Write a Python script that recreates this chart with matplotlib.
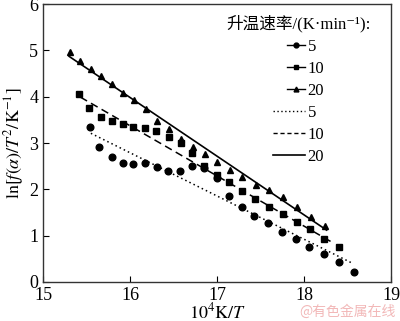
import matplotlib
matplotlib.use("Agg")
import matplotlib.pyplot as plt
from matplotlib.lines import Line2D
from matplotlib.legend_handler import HandlerLine2D

plt.rcParams['font.family'] = ['Liberation Serif', 'Noto Sans CJK SC', 'DejaVu Sans']
plt.rcParams['mathtext.fontset'] = 'stix'

# measured points, heating rate 5 / 10 / 20 K/min
x5 = [15.54, 15.64, 15.79, 15.92, 16.03, 16.17, 16.31, 16.44, 16.57, 16.71, 16.85,
      17.00, 17.14, 17.29, 17.43, 17.59, 17.75, 17.91, 18.06, 18.23, 18.40, 18.57]
y5 = [3.34, 2.91, 2.69, 2.56, 2.54, 2.56, 2.48, 2.40, 2.39, 2.51, 2.46,
      2.24, 1.86, 1.62, 1.42, 1.27, 1.08, 0.93, 0.75, 0.60, 0.43, 0.22]

x10 = [15.41, 15.53, 15.67, 15.79, 15.92, 16.03, 16.17, 16.30, 16.45, 16.59, 16.71,
       16.85, 17.00, 17.14, 17.29, 17.44, 17.60, 17.76, 17.92, 18.07, 18.23, 18.40]
y10 = [4.05, 3.75, 3.56, 3.47, 3.41, 3.34, 3.32, 3.25, 3.13, 3.01, 2.78,
       2.50, 2.32, 2.16, 1.97, 1.80, 1.62, 1.46, 1.29, 1.14, 0.93, 0.75]

x20 = [15.31, 15.43, 15.55, 15.67, 15.79, 15.92, 16.05, 16.18, 16.31, 16.45, 16.59,
       16.72, 16.86, 17.00, 17.15, 17.29, 17.45, 17.60, 17.76, 17.92, 18.08, 18.24]
y20 = [4.96, 4.76, 4.59, 4.44, 4.27, 4.09, 3.92, 3.73, 3.47, 3.30, 3.08,
       2.92, 2.77, 2.58, 2.41, 2.26, 2.09, 1.98, 1.84, 1.62, 1.40, 1.21]

# linear fits (end points)
fit5_x, fit5_y = [15.55, 18.54], [3.21, 0.42]
fit10_x, fit10_y = [15.43, 18.32], [3.99, 0.86]
fit20_x, fit20_y = [15.30, 18.26], [4.87, 1.12]


class MarkerLeft(HandlerLine2D):
    # marker at left end of handle, short dash to the right of it
    def get_xdata(self, legend, xdescent, ydescent, width, height, fontsize):
        xd = [-xdescent + 0.42 * width, -xdescent + width]
        return xd, [-xdescent + 0.1 * width]


fig = plt.figure(figsize=(4.0, 3.21), dpi=100)
ax = fig.add_axes([0.1075, 0.1215, 0.87, 0.866])

ax.plot(x5, y5, 'o', color='black', ms=4.8, label='5')
ax.plot(x10, y10, 's', color='black', ms=4.6, label='10')
ax.plot(x20, y20, '^', color='black', ms=5, label='20')
ax.plot(fit5_x, fit5_y, color='black', lw=1.1, linestyle=(0, (1, 2)))
ax.plot(fit10_x, fit10_y, color='black', lw=1.1, linestyle=(0, (5, 3)))
ax.plot(fit20_x, fit20_y, color='black', lw=1.2, linestyle='-')

ax.set_xlim(15, 19)
ax.set_ylim(0, 6)
ax.set_xticks([15, 16, 17, 18, 19])
ax.set_yticks([0, 1, 2, 3, 4, 5, 6])
ax.tick_params(direction='in', labelsize=13, length=4, width=0.8)
for s in ax.spines.values():
    s.set_color('#333333')
    s.set_linewidth(1.0)

ax.set_xlabel(r'$10^4\mathrm{K}/T$', fontsize=13, labelpad=-1)
ax.set_ylabel(r'$\ln[f(\alpha)/T^2/\mathrm{K}^{-1}]$', fontsize=13, labelpad=2)

handles = [
    Line2D([], [], marker='o', ms=3.5, color='black', lw=1.0),
    Line2D([], [], marker='s', ms=3.5, color='black', lw=1.0),
    Line2D([], [], marker='^', ms=3.5, color='black', lw=1.0),
    Line2D([], [], color='black', lw=1.0, linestyle=(0, (1, 1.8))),
    Line2D([], [], color='black', lw=1.0, linestyle=(0, (3, 2))),
    Line2D([], [], color='black', lw=1.2, linestyle='-'),
]
labels = ['5', '10', '20', '5', '10', '20']
hmap = {h: MarkerLeft() for h in handles[:3]}
leg = ax.legend(handles, labels, handler_map=hmap, loc='upper center',
                bbox_to_anchor=(0.735, 0.99), frameon=False, fontsize=12,
                title='升温速率/(K·min⁻¹):', title_fontsize=12,
                handlelength=1.9, handletextpad=0.15, labelspacing=0.36,
                borderpad=0.0, alignment='center')

fig.text(0.99, 0.008, '@有色金属在线', color='#f2b8b8', fontsize=10,
         ha='right', va='bottom', family=['Noto Sans CJK SC'])

fig.savefig('out.png', dpi=100)
